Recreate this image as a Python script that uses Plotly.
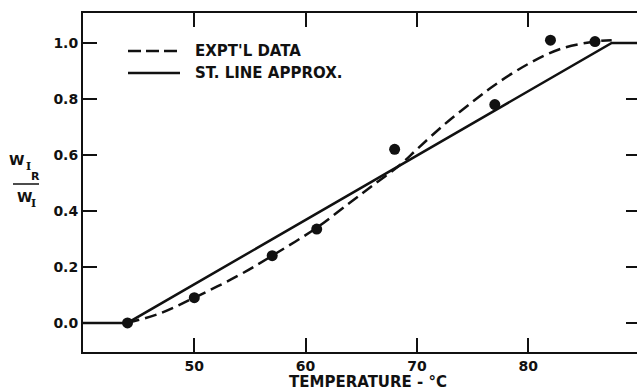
import plotly.graph_objects as go

# Measured points (temperature, W_IR / W_I)
temp_pts = [44, 50, 57, 61, 68, 77, 82, 86]
ratio_pts = [0.0, 0.09, 0.24, 0.335, 0.62, 0.78, 1.01, 1.005]

# Faired curve through the experimental data
curve_t = [44, 47, 50, 54, 57, 61, 64, 66, 68.5, 70, 72.5, 75, 77, 80, 83, 86, 87.5]
curve_r = [0.0, 0.035, 0.09, 0.17, 0.24, 0.34, 0.43, 0.49, 0.565, 0.62, 0.71, 0.79, 0.85, 0.925, 0.98, 1.005, 1.01]

# Straight-line approximation
line_t = [40, 44, 87.5, 95]
line_r = [0.0, 0.0, 1.0, 1.0]

x_ticks = [50, 60, 70, 80]
y_ticks = [0.0, 0.2, 0.4, 0.6, 0.8, 1.0]
y_tick_text = ["0.0", "0.2", "0.4", "0.6", "0.8", "1.0"]

W, H = 637, 391
ML, MR, MT, MB = 83, 0, 13, 39
PW, PH = W - ML - MR, H - MT - MB
FONT = "DejaVu Sans"
INK = "#111111"


def px(xp):
    return (xp - ML) / PW


def py(yp):
    return (H - MB - yp) / PH


fig = go.Figure()
fig.add_trace(go.Scatter(x=line_t, y=line_r, mode="lines",
                         line=dict(color=INK, width=2.5), showlegend=False))
fig.add_trace(go.Scatter(x=curve_t, y=curve_r, mode="lines",
                         line=dict(color=INK, width=2.5, dash="12px,6px", shape="spline"),
                         showlegend=False))
fig.add_trace(go.Scatter(x=temp_pts, y=ratio_pts, mode="markers",
                         marker=dict(color=INK, size=11), showlegend=False))
# carrier for the right-hand tick axis
fig.add_trace(go.Scatter(x=[60], y=[0.5], yaxis="y2", mode="markers",
                         marker=dict(opacity=0), showlegend=False, hoverinfo="skip"))

x_range = [40, 40 + PW / 11.13]
bold14 = dict(size=14, family=FONT, weight="bold")

fig.update_layout(
    width=W, height=H,
    margin=dict(l=ML, r=MR, t=MT, b=MB),
    paper_bgcolor="white", plot_bgcolor="white",
    font=dict(family=FONT, color=INK, size=14),
    xaxis=dict(range=x_range, tickvals=x_ticks, ticks="inside", ticklen=14,
               tickwidth=2, tickcolor=INK, showline=True, linewidth=2,
               linecolor=INK, mirror="ticks", showgrid=False, zeroline=False,
               tickfont=bold14),
    yaxis=dict(range=[-0.104, 1.107], tickvals=y_ticks, ticktext=y_tick_text,
               ticks="inside", ticklen=14, tickwidth=2, tickcolor=INK,
               showline=True, linewidth=2, linecolor=INK, showgrid=False,
               zeroline=False, tickfont=bold14),
    yaxis2=dict(range=[-0.104, 1.107], tickvals=y_ticks, overlaying="y",
                side="right", ticks="inside", ticklen=11, tickwidth=2,
                tickcolor=INK, showticklabels=False, showline=False,
                showgrid=False, zeroline=False),
)

annotations = [
    dict(x=px(368), y=py(382), text="TEMPERATURE - °C", font=dict(size=15, weight="bold")),
    # legend labels
    dict(x=px(193), y=py(51), text="EXPT'L DATA", xanchor="left", font=dict(size=15, weight="bold")),
    dict(x=px(193), y=py(73), text="ST. LINE APPROX.", xanchor="left", font=dict(size=15, weight="bold")),
    # y-axis ratio label
    dict(x=px(16), y=py(160), text="W", font=dict(size=14, weight="bold")),
    dict(x=px(28.5), y=py(166), text="I", font=dict(size=11, family="DejaVu Serif", weight="bold")),
    dict(x=px(35.5), y=py(176), text="R", font=dict(size=11, weight="bold")),
    dict(x=px(24), y=py(197), text="W", font=dict(size=14, weight="bold")),
    dict(x=px(33.5), y=py(203), text="I", font=dict(size=11, family="DejaVu Serif", weight="bold")),
]
for a in annotations:
    a.update(xref="paper", yref="paper", showarrow=False)
    a.setdefault("xanchor", "center")
    a["yanchor"] = "middle"
fig.update_layout(annotations=annotations)

shapes = [
    dict(type="line", x0=px(128), x1=px(180), y0=py(51), y1=py(51),
         line=dict(color=INK, width=2.5, dash="13px,5px")),
    dict(type="line", x0=px(128), x1=px(180), y0=py(73), y1=py(73),
         line=dict(color=INK, width=2.5)),
    dict(type="line", x0=px(13), x1=px(39), y0=py(184), y1=py(184),
         line=dict(color=INK, width=1.5)),
]
for s in shapes:
    s.update(xref="paper", yref="paper")
fig.update_layout(shapes=shapes)

fig.write_html("out.html")
